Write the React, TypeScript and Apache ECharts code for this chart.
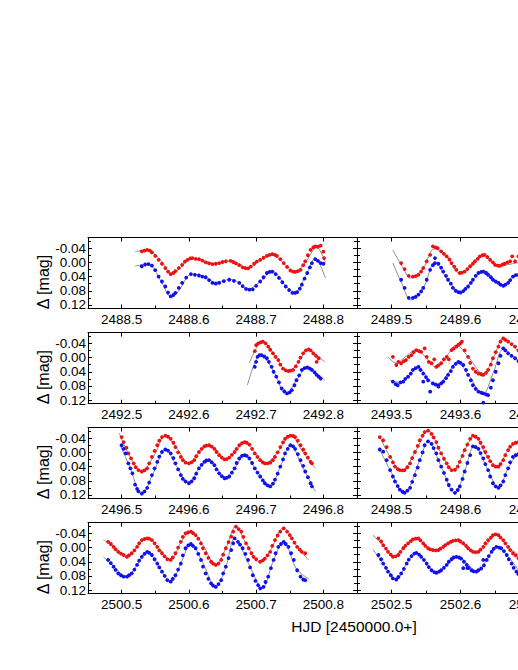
import React, { useEffect, useRef } from "react";
import * as echarts from "echarts";

// ---- panel ranges (HJD) ----
const panelStarts = [2488.45, 2489.45, 2492.45, 2493.45, 2496.45, 2498.45, 2500.45, 2502.45];
const panelSpan = 0.4;
const yMin = -0.07;
const yMax = 0.13;
const yTicks = [-0.04, 0, 0.04, 0.08, 0.12];
const yMinorTicks = [-0.06, -0.02, 0.02, 0.06, 0.1];

// ---- data: red (upper) and blue (lower) light curves, and fitted curves ----
const red_2488 = [[2488.530,-0.031],[2488.534,-0.033],[2488.538,-0.035],[2488.542,-0.033],[2488.545,-0.028],[2488.550,-0.018],[2488.555,-0.007],[2488.560,0.004],[2488.565,0.016],[2488.569,0.026],[2488.573,0.033],[2488.577,0.030],[2488.580,0.025],[2488.585,0.016],[2488.590,0.007],[2488.594,-0.002],[2488.598,-0.007],[2488.602,-0.011],[2488.605,-0.012],[2488.610,-0.010],[2488.615,-0.009],[2488.620,-0.005],[2488.625,0.000],[2488.630,0.003],[2488.635,0.005],[2488.640,0.004],[2488.645,0.002],[2488.650,-0.001],[2488.655,-0.003],[2488.662,-0.004],[2488.666,-0.001],[2488.670,0.003],[2488.675,0.008],[2488.680,0.014],[2488.684,0.016],[2488.688,0.017],[2488.692,0.012],[2488.697,0.004],[2488.701,-0.002],[2488.706,-0.007],[2488.711,-0.013],[2488.716,-0.018],[2488.720,-0.021],[2488.724,-0.023],[2488.728,-0.021],[2488.731,-0.018],[2488.736,-0.009],[2488.741,0.002],[2488.746,0.013],[2488.751,0.023],[2488.755,0.026],[2488.758,0.027],[2488.762,0.025],[2488.766,0.021],[2488.770,0.008],[2488.773,-0.003],[2488.777,-0.020],[2488.781,-0.035],[2488.785,-0.042],[2488.788,-0.045],[2488.792,-0.044],[2488.796,-0.047],[2488.800,-0.030],[2488.801,-0.012]];
const blue_2488 = [[2488.530,0.011],[2488.535,0.006],[2488.540,0.005],[2488.545,0.009],[2488.550,0.022],[2488.555,0.040],[2488.560,0.054],[2488.565,0.068],[2488.569,0.085],[2488.573,0.096],[2488.577,0.092],[2488.580,0.086],[2488.585,0.072],[2488.590,0.058],[2488.596,0.043],[2488.603,0.033],[2488.609,0.035],[2488.615,0.037],[2488.620,0.040],[2488.625,0.042],[2488.630,0.050],[2488.635,0.058],[2488.640,0.060],[2488.645,0.058],[2488.652,0.053],[2488.660,0.049],[2488.667,0.052],[2488.675,0.058],[2488.680,0.067],[2488.685,0.075],[2488.690,0.077],[2488.695,0.076],[2488.700,0.066],[2488.706,0.054],[2488.711,0.042],[2488.716,0.030],[2488.720,0.027],[2488.724,0.026],[2488.729,0.033],[2488.734,0.044],[2488.739,0.056],[2488.744,0.068],[2488.749,0.078],[2488.754,0.086],[2488.758,0.086],[2488.761,0.084],[2488.765,0.074],[2488.768,0.063],[2488.772,0.046],[2488.776,0.030],[2488.780,0.014],[2488.783,0.002],[2488.788,-0.009],[2488.792,-0.004],[2488.796,0.002],[2488.800,0.004]];
const fitRed_2488 = [[2488.520,-0.030],[2488.537,-0.035],[2488.548,-0.025],[2488.560,-0.002],[2488.574,0.032],[2488.585,0.020],[2488.598,-0.006],[2488.610,-0.011],[2488.625,-0.003],[2488.640,0.004],[2488.662,-0.005],[2488.675,0.005],[2488.687,0.016],[2488.706,-0.006],[2488.724,-0.023],[2488.741,0.003],[2488.758,0.027],[2488.773,0.000],[2488.790,-0.042],[2488.803,0.000]];
const fitBlue_2488 = [[2488.520,0.010],[2488.540,0.006],[2488.548,0.018],[2488.560,0.058],[2488.574,0.098],[2488.585,0.080],[2488.598,0.040],[2488.605,0.033],[2488.625,0.042],[2488.640,0.056],[2488.662,0.048],[2488.675,0.058],[2488.687,0.076],[2488.706,0.055],[2488.724,0.025],[2488.744,0.066],[2488.758,0.086],[2488.773,0.040],[2488.788,-0.010],[2488.803,0.044]];

const red_2489 = [[2489.514,0.002],[2489.519,0.019],[2489.525,0.038],[2489.531,0.040],[2489.535,0.039],[2489.539,0.035],[2489.543,0.026],[2489.546,0.016],[2489.551,-0.003],[2489.556,-0.021],[2489.560,-0.045],[2489.564,-0.042],[2489.567,-0.040],[2489.572,-0.031],[2489.576,-0.024],[2489.580,-0.017],[2489.584,-0.008],[2489.587,0.002],[2489.591,0.012],[2489.594,0.021],[2489.599,0.030],[2489.602,0.029],[2489.606,0.026],[2489.610,0.019],[2489.614,0.011],[2489.618,0.004],[2489.621,-0.003],[2489.625,-0.010],[2489.628,-0.017],[2489.632,-0.020],[2489.635,-0.021],[2489.639,-0.015],[2489.643,-0.007],[2489.647,0.000],[2489.650,0.007],[2489.654,0.009],[2489.657,0.010],[2489.661,0.006],[2489.664,0.004],[2489.668,0.000],[2489.672,-0.003],[2489.675,-0.017],[2489.679,-0.003],[2489.684,-0.017],[2489.688,0.000]];
const blue_2489 = [[2489.514,0.049],[2489.519,0.072],[2489.525,0.100],[2489.531,0.100],[2489.535,0.097],[2489.539,0.091],[2489.543,0.082],[2489.546,0.072],[2489.551,0.049],[2489.556,0.021],[2489.560,0.008],[2489.563,0.002],[2489.563,-0.012],[2489.568,0.004],[2489.572,0.015],[2489.575,0.026],[2489.579,0.038],[2489.582,0.049],[2489.586,0.060],[2489.589,0.072],[2489.593,0.080],[2489.597,0.084],[2489.600,0.085],[2489.604,0.081],[2489.607,0.075],[2489.611,0.068],[2489.615,0.058],[2489.618,0.049],[2489.622,0.038],[2489.626,0.030],[2489.630,0.027],[2489.633,0.026],[2489.637,0.030],[2489.640,0.035],[2489.644,0.042],[2489.647,0.049],[2489.651,0.054],[2489.655,0.058],[2489.658,0.063],[2489.662,0.066],[2489.665,0.063],[2489.669,0.058],[2489.672,0.050],[2489.676,0.040],[2489.680,0.036],[2489.684,0.035]];
const fitRed_2489 = [[2489.502,-0.035],[2489.515,0.010],[2489.528,0.044],[2489.546,0.016],[2489.562,-0.038],[2489.580,-0.017],[2489.599,0.031],[2489.614,0.011],[2489.633,-0.022],[2489.645,-0.004],[2489.657,0.010],[2489.675,0.004],[2489.690,-0.002]];
const fitBlue_2489 = [[2489.502,0.002],[2489.515,0.060],[2489.528,0.106],[2489.546,0.072],[2489.563,0.000],[2489.582,0.050],[2489.600,0.086],[2489.618,0.049],[2489.635,0.024],[2489.650,0.050],[2489.662,0.068],[2489.676,0.040],[2489.690,0.030]];

const red_2492 = [[2492.698,-0.018],[2492.700,-0.035],[2492.703,-0.040],[2492.707,-0.043],[2492.710,-0.045],[2492.714,-0.040],[2492.718,-0.031],[2492.721,-0.022],[2492.725,-0.012],[2492.729,-0.002],[2492.733,0.007],[2492.736,0.020],[2492.740,0.031],[2492.744,0.036],[2492.748,0.038],[2492.751,0.037],[2492.755,0.035],[2492.759,0.025],[2492.763,0.012],[2492.766,0.000],[2492.770,-0.012],[2492.774,-0.020],[2492.778,-0.023],[2492.781,-0.020],[2492.785,-0.012],[2492.789,-0.005],[2492.793,0.002],[2492.790,0.012]];
const blue_2492 = [[2492.698,0.026],[2492.700,0.012],[2492.702,-0.002],[2492.705,-0.007],[2492.708,-0.007],[2492.712,-0.003],[2492.716,0.002],[2492.719,0.012],[2492.723,0.026],[2492.726,0.040],[2492.730,0.054],[2492.734,0.070],[2492.738,0.087],[2492.742,0.095],[2492.746,0.101],[2492.750,0.098],[2492.753,0.092],[2492.757,0.078],[2492.760,0.064],[2492.764,0.050],[2492.768,0.035],[2492.772,0.030],[2492.776,0.028],[2492.780,0.031],[2492.783,0.035],[2492.787,0.042],[2492.790,0.049],[2492.793,0.054],[2492.796,0.059]];
const fitRed_2492 = [[2492.690,0.016],[2492.700,-0.025],[2492.710,-0.045],[2492.725,-0.014],[2492.748,0.040],[2492.763,0.012],[2492.778,-0.024],[2492.790,-0.005],[2492.802,0.012]];
const fitBlue_2492 = [[2492.687,0.078],[2492.697,0.020],[2492.706,-0.008],[2492.725,0.035],[2492.745,0.104],[2492.760,0.064],[2492.778,0.026],[2492.790,0.045],[2492.802,0.064]];

const red_2493 = [[2493.502,-0.002],[2493.507,0.021],[2493.510,0.012],[2493.514,0.016],[2493.518,0.010],[2493.521,0.007],[2493.525,-0.002],[2493.529,-0.007],[2493.532,-0.015],[2493.536,-0.021],[2493.540,-0.018],[2493.543,-0.016],[2493.548,-0.026],[2493.551,-0.002],[2493.554,0.012],[2493.558,0.016],[2493.562,0.005],[2493.565,0.026],[2493.568,0.022],[2493.572,0.016],[2493.576,0.005],[2493.580,-0.002],[2493.583,0.005],[2493.587,-0.021],[2493.590,-0.025],[2493.594,-0.031],[2493.597,-0.036],[2493.600,-0.040],[2493.602,-0.045],[2493.606,-0.020],[2493.611,-0.002],[2493.614,0.015],[2493.618,0.031],[2493.622,0.040],[2493.626,0.045],[2493.630,0.047],[2493.633,0.049],[2493.637,0.043],[2493.640,0.035],[2493.644,0.020],[2493.647,0.002],[2493.651,-0.015],[2493.655,-0.031],[2493.658,-0.045],[2493.662,-0.054],[2493.665,-0.050],[2493.669,-0.045],[2493.674,-0.038],[2493.679,-0.031],[2493.684,-0.020]];
const blue_2493 = [[2493.502,0.068],[2493.506,0.075],[2493.509,0.078],[2493.513,0.070],[2493.517,0.068],[2493.520,0.060],[2493.524,0.054],[2493.528,0.045],[2493.531,0.035],[2493.535,0.030],[2493.539,0.026],[2493.542,0.035],[2493.546,0.045],[2493.546,0.068],[2493.550,0.055],[2493.553,0.064],[2493.556,0.096],[2493.560,0.073],[2493.564,0.076],[2493.568,0.078],[2493.568,0.082],[2493.572,0.073],[2493.575,0.068],[2493.579,0.058],[2493.582,0.049],[2493.586,0.038],[2493.589,0.026],[2493.593,0.018],[2493.597,0.012],[2493.600,0.015],[2493.604,0.021],[2493.608,0.035],[2493.611,0.049],[2493.615,0.064],[2493.618,0.078],[2493.622,0.088],[2493.626,0.096],[2493.630,0.099],[2493.633,0.101],[2493.633,0.127],[2493.637,0.104],[2493.640,0.106],[2493.644,0.085],[2493.647,0.064],[2493.651,0.040],[2493.655,0.016],[2493.658,-0.005],[2493.662,-0.026],[2493.665,-0.020],[2493.669,-0.012],[2493.674,-0.005],[2493.679,0.002],[2493.684,0.010]];
const fitRed_2493 = [[2493.495,-0.002],[2493.507,0.016],[2493.520,-0.002],[2493.536,-0.022],[2493.550,0.000],[2493.565,0.028],[2493.580,-0.004],[2493.594,-0.035],[2493.612,0.000],[2493.633,0.046],[2493.648,0.000],[2493.662,-0.054],[2493.675,-0.035],[2493.690,-0.005]];
const fitBlue_2493 = [[2493.498,0.064],[2493.512,0.070],[2493.525,0.050],[2493.539,0.026],[2493.553,0.060],[2493.566,0.078],[2493.580,0.050],[2493.595,0.014],[2493.612,0.050],[2493.632,0.104],[2493.648,0.040],[2493.662,-0.024],[2493.675,-0.005],[2493.690,0.020]];

const red_2496 = [[2496.500,-0.043],[2496.503,-0.029],[2496.507,-0.013],[2496.510,0.003],[2496.514,0.017],[2496.518,0.031],[2496.521,0.042],[2496.525,0.050],[2496.530,0.054],[2496.534,0.051],[2496.538,0.045],[2496.541,0.031],[2496.545,0.013],[2496.549,-0.004],[2496.553,-0.020],[2496.556,-0.033],[2496.560,-0.043],[2496.565,-0.047],[2496.569,-0.044],[2496.573,-0.038],[2496.577,-0.027],[2496.580,-0.015],[2496.584,0.000],[2496.588,0.013],[2496.591,0.022],[2496.595,0.029],[2496.600,0.031],[2496.604,0.028],[2496.608,0.022],[2496.611,0.011],[2496.615,-0.001],[2496.619,-0.010],[2496.623,-0.017],[2496.626,-0.019],[2496.630,-0.020],[2496.634,-0.016],[2496.638,-0.010],[2496.641,-0.001],[2496.645,0.008],[2496.649,0.015],[2496.653,0.020],[2496.656,0.019],[2496.660,0.015],[2496.664,0.007],[2496.668,-0.001],[2496.671,-0.010],[2496.675,-0.020],[2496.679,-0.026],[2496.683,-0.029],[2496.686,-0.027],[2496.690,-0.022],[2496.694,-0.010],[2496.698,0.003],[2496.702,0.013],[2496.706,0.022],[2496.710,0.028],[2496.713,0.031],[2496.717,0.031],[2496.721,0.029],[2496.725,0.022],[2496.728,0.013],[2496.732,0.000],[2496.736,-0.015],[2496.740,-0.028],[2496.743,-0.038],[2496.747,-0.044],[2496.751,-0.047],[2496.755,-0.046],[2496.758,-0.043],[2496.762,-0.033],[2496.766,-0.020],[2496.770,-0.008],[2496.773,0.003],[2496.777,0.015],[2496.781,0.027],[2496.783,0.031]];
const blue_2496 = [[2496.500,-0.020],[2496.503,-0.010],[2496.506,0.003],[2496.510,0.031],[2496.513,0.045],[2496.516,0.059],[2496.520,0.091],[2496.523,0.103],[2496.525,0.110],[2496.530,0.116],[2496.534,0.110],[2496.538,0.100],[2496.541,0.085],[2496.545,0.064],[2496.549,0.045],[2496.553,0.027],[2496.556,0.012],[2496.560,-0.001],[2496.565,-0.008],[2496.569,-0.005],[2496.573,0.003],[2496.577,0.016],[2496.580,0.031],[2496.584,0.048],[2496.588,0.064],[2496.591,0.075],[2496.595,0.082],[2496.600,0.087],[2496.604,0.082],[2496.608,0.073],[2496.611,0.060],[2496.615,0.045],[2496.619,0.035],[2496.623,0.027],[2496.626,0.023],[2496.630,0.022],[2496.634,0.028],[2496.638,0.036],[2496.641,0.048],[2496.645,0.059],[2496.649,0.067],[2496.653,0.073],[2496.656,0.072],[2496.660,0.068],[2496.664,0.057],[2496.668,0.045],[2496.671,0.030],[2496.675,0.017],[2496.679,0.010],[2496.683,0.008],[2496.686,0.010],[2496.690,0.017],[2496.694,0.030],[2496.698,0.045],[2496.702,0.057],[2496.706,0.068],[2496.710,0.079],[2496.713,0.087],[2496.717,0.093],[2496.721,0.096],[2496.725,0.088],[2496.728,0.077],[2496.732,0.060],[2496.736,0.040],[2496.740,0.020],[2496.743,0.003],[2496.747,-0.010],[2496.751,-0.020],[2496.755,-0.017],[2496.758,-0.010],[2496.762,0.005],[2496.766,0.022],[2496.770,0.038],[2496.773,0.054],[2496.777,0.070],[2496.781,0.087],[2496.783,0.096]];
const fitRed_2496 = [[2496.4965,-0.054],[2496.510,0.003],[2496.530,0.054],[2496.548,0.010],[2496.565,-0.047],[2496.582,-0.012],[2496.600,0.031],[2496.615,0.000],[2496.630,-0.020],[2496.642,-0.006],[2496.653,0.020],[2496.668,0.000],[2496.683,-0.029],[2496.698,0.000],[2496.713,0.031],[2496.732,0.000],[2496.751,-0.047],[2496.770,0.000],[2496.788,0.045]];
const fitBlue_2496 = [[2496.498,-0.020],[2496.512,0.040],[2496.530,0.118],[2496.548,0.055],[2496.565,-0.008],[2496.582,0.040],[2496.600,0.088],[2496.615,0.045],[2496.630,0.022],[2496.642,0.045],[2496.653,0.073],[2496.668,0.045],[2496.683,0.007],[2496.700,0.050],[2496.721,0.096],[2496.736,0.040],[2496.751,-0.020],[2496.770,0.045],[2496.788,0.110]];

const red_2498 = [[2498.483,-0.043],[2498.488,-0.034],[2498.493,-0.015],[2498.498,0.013],[2498.502,0.028],[2498.505,0.040],[2498.509,0.047],[2498.512,0.050],[2498.516,0.051],[2498.519,0.050],[2498.523,0.042],[2498.527,0.031],[2498.530,0.016],[2498.534,-0.001],[2498.538,-0.018],[2498.541,-0.034],[2498.545,-0.047],[2498.548,-0.057],[2498.553,-0.061],[2498.558,-0.052],[2498.561,-0.042],[2498.565,-0.029],[2498.568,-0.013],[2498.572,0.003],[2498.576,0.018],[2498.580,0.031],[2498.583,0.042],[2498.587,0.050],[2498.592,0.049],[2498.596,0.040],[2498.599,0.027],[2498.603,0.010],[2498.606,-0.006],[2498.610,-0.022],[2498.614,-0.038],[2498.618,-0.047],[2498.622,-0.044],[2498.626,-0.038],[2498.629,-0.027],[2498.633,-0.015],[2498.636,-0.001],[2498.640,0.013],[2498.643,0.025],[2498.647,0.036],[2498.651,0.040],[2498.655,0.040],[2498.658,0.033],[2498.662,0.022],[2498.665,0.008],[2498.669,-0.006],[2498.672,-0.016],[2498.676,-0.024],[2498.680,-0.027],[2498.684,-0.029]];
const blue_2498 = [[2498.483,-0.008],[2498.488,-0.002],[2498.493,0.022],[2498.498,0.050],[2498.502,0.068],[2498.505,0.082],[2498.509,0.095],[2498.512,0.105],[2498.516,0.111],[2498.519,0.114],[2498.523,0.108],[2498.527,0.100],[2498.530,0.083],[2498.534,0.064],[2498.538,0.043],[2498.541,0.022],[2498.545,0.000],[2498.548,-0.020],[2498.553,-0.031],[2498.558,-0.024],[2498.561,-0.012],[2498.565,0.003],[2498.568,0.022],[2498.572,0.040],[2498.576,0.058],[2498.580,0.077],[2498.583,0.092],[2498.587,0.105],[2498.592,0.114],[2498.596,0.106],[2498.599,0.096],[2498.603,0.075],[2498.606,0.054],[2498.610,0.030],[2498.614,0.008],[2498.618,-0.017],[2498.622,-0.015],[2498.626,-0.010],[2498.629,0.002],[2498.633,0.017],[2498.636,0.033],[2498.640,0.050],[2498.643,0.068],[2498.647,0.087],[2498.651,0.096],[2498.655,0.100],[2498.658,0.093],[2498.662,0.082],[2498.665,0.064],[2498.669,0.045],[2498.672,0.028],[2498.676,0.013],[2498.680,0.008],[2498.684,0.005]];
const fitRed_2498 = [[2498.483,-0.045],[2498.498,0.013],[2498.515,0.052],[2498.534,0.000],[2498.553,-0.062],[2498.572,0.003],[2498.590,0.052],[2498.606,-0.006],[2498.620,-0.048],[2498.638,0.010],[2498.653,0.041],[2498.669,-0.006],[2498.684,-0.026],[2498.695,-0.020]];
const fitBlue_2498 = [[2498.483,-0.008],[2498.498,0.050],[2498.518,0.116],[2498.541,0.022],[2498.553,-0.031],[2498.572,0.040],[2498.592,0.116],[2498.606,0.054],[2498.620,-0.018],[2498.640,0.050],[2498.655,0.102],[2498.669,0.045],[2498.684,0.010],[2498.695,0.012]];

const red_2500 = [[2500.480,-0.016],[2500.484,-0.010],[2500.488,-0.002],[2500.491,0.005],[2500.495,0.012],[2500.499,0.017],[2500.503,0.021],[2500.508,0.026],[2500.511,0.022],[2500.515,0.016],[2500.519,0.008],[2500.523,-0.002],[2500.526,-0.012],[2500.530,-0.021],[2500.534,-0.024],[2500.538,-0.026],[2500.541,-0.025],[2500.545,-0.021],[2500.549,-0.012],[2500.553,-0.002],[2500.556,0.008],[2500.560,0.016],[2500.564,0.025],[2500.568,0.033],[2500.573,0.035],[2500.576,0.028],[2500.580,0.016],[2500.584,0.000],[2500.588,-0.016],[2500.591,-0.030],[2500.595,-0.040],[2500.599,-0.043],[2500.603,-0.045],[2500.606,-0.041],[2500.610,-0.035],[2500.614,-0.025],[2500.618,-0.012],[2500.621,0.002],[2500.625,0.016],[2500.629,0.029],[2500.633,0.040],[2500.636,0.045],[2500.640,0.049],[2500.644,0.045],[2500.648,0.035],[2500.651,0.020],[2500.655,0.002],[2500.659,-0.015],[2500.663,-0.031],[2500.666,-0.045],[2500.670,-0.059],[2500.674,-0.052],[2500.678,-0.045],[2500.681,-0.030],[2500.685,-0.012],[2500.689,0.002],[2500.693,0.016],[2500.696,0.026],[2500.700,0.033],[2500.706,0.040],[2500.710,0.036],[2500.713,0.031],[2500.717,0.022],[2500.721,0.012],[2500.724,-0.005],[2500.728,-0.021],[2500.732,-0.034],[2500.736,-0.045],[2500.741,-0.054],[2500.746,-0.045],[2500.750,-0.035],[2500.753,-0.026],[2500.757,-0.014],[2500.761,-0.002],[2500.765,0.006],[2500.768,0.012],[2500.773,0.016]];
const blue_2500 = [[2500.480,0.035],[2500.484,0.044],[2500.488,0.054],[2500.491,0.063],[2500.495,0.073],[2500.499,0.078],[2500.503,0.082],[2500.508,0.082],[2500.511,0.078],[2500.515,0.073],[2500.519,0.062],[2500.523,0.049],[2500.526,0.037],[2500.530,0.026],[2500.534,0.018],[2500.538,0.012],[2500.541,0.015],[2500.545,0.021],[2500.549,0.033],[2500.553,0.045],[2500.556,0.056],[2500.560,0.068],[2500.564,0.080],[2500.568,0.092],[2500.573,0.096],[2500.576,0.088],[2500.580,0.078],[2500.584,0.062],[2500.588,0.045],[2500.591,0.022],[2500.595,0.002],[2500.599,-0.006],[2500.603,-0.010],[2500.606,-0.005],[2500.610,0.002],[2500.614,0.018],[2500.618,0.035],[2500.621,0.054],[2500.625,0.073],[2500.629,0.088],[2500.633,0.101],[2500.636,0.107],[2500.640,0.111],[2500.644,0.103],[2500.648,0.092],[2500.651,0.073],[2500.655,0.054],[2500.659,0.030],[2500.663,0.007],[2500.666,-0.012],[2500.668,-0.026],[2500.673,-0.016],[2500.676,-0.008],[2500.680,0.002],[2500.684,0.018],[2500.688,0.035],[2500.691,0.056],[2500.695,0.078],[2500.699,0.094],[2500.703,0.106],[2500.706,0.115],[2500.711,0.111],[2500.714,0.097],[2500.718,0.082],[2500.722,0.058],[2500.726,0.035],[2500.729,0.016],[2500.733,-0.002],[2500.737,-0.010],[2500.741,-0.016],[2500.744,-0.010],[2500.748,-0.002],[2500.752,0.016],[2500.756,0.035],[2500.761,0.064],[2500.766,0.082],[2500.770,0.090],[2500.773,0.092]];
const fitRed_2500 = [[2500.473,-0.021],[2500.488,-0.004],[2500.508,0.026],[2500.523,-0.002],[2500.538,-0.028],[2500.553,-0.003],[2500.573,0.035],[2500.588,-0.014],[2500.603,-0.046],[2500.620,-0.010],[2500.640,0.050],[2500.655,0.002],[2500.670,-0.060],[2500.685,-0.012],[2500.705,0.040],[2500.720,0.012],[2500.741,-0.056],[2500.760,-0.005],[2500.778,0.035]];
const fitBlue_2500 = [[2500.473,0.026],[2500.490,0.056],[2500.507,0.083],[2500.523,0.049],[2500.538,0.012],[2500.553,0.045],[2500.573,0.097],[2500.588,0.045],[2500.603,-0.011],[2500.620,0.040],[2500.640,0.112],[2500.655,0.054],[2500.668,-0.026],[2500.690,0.050],[2500.709,0.115],[2500.726,0.035],[2500.741,-0.016],[2500.760,0.060],[2500.778,0.088]];

const red_2502 = [[2502.481,-0.026],[2502.485,-0.017],[2502.488,-0.007],[2502.492,0.003],[2502.495,0.012],[2502.499,0.020],[2502.502,0.026],[2502.506,0.025],[2502.510,0.021],[2502.513,0.012],[2502.517,0.002],[2502.520,-0.005],[2502.524,-0.012],[2502.528,-0.018],[2502.531,-0.023],[2502.535,-0.025],[2502.539,-0.026],[2502.542,-0.020],[2502.546,-0.012],[2502.549,-0.005],[2502.553,0.002],[2502.556,0.005],[2502.560,0.007],[2502.564,0.008],[2502.568,0.007],[2502.571,0.003],[2502.575,-0.002],[2502.578,-0.007],[2502.582,-0.012],[2502.586,-0.016],[2502.589,-0.019],[2502.593,-0.020],[2502.597,-0.021],[2502.600,-0.017],[2502.604,-0.012],[2502.608,-0.005],[2502.611,0.002],[2502.615,0.008],[2502.618,0.012],[2502.622,0.013],[2502.626,0.012],[2502.629,0.006],[2502.633,-0.002],[2502.636,-0.012],[2502.640,-0.021],[2502.644,-0.028],[2502.647,-0.035],[2502.651,-0.037],[2502.655,-0.035],[2502.658,-0.028],[2502.662,-0.021],[2502.665,-0.012],[2502.669,-0.002],[2502.672,0.007],[2502.676,0.016],[2502.680,0.022],[2502.684,0.030]];
const blue_2502 = [[2502.481,0.021],[2502.485,0.033],[2502.488,0.045],[2502.492,0.057],[2502.495,0.068],[2502.499,0.078],[2502.502,0.087],[2502.507,0.090],[2502.510,0.083],[2502.514,0.073],[2502.518,0.060],[2502.522,0.045],[2502.525,0.034],[2502.529,0.024],[2502.533,0.017],[2502.536,0.015],[2502.540,0.020],[2502.543,0.026],[2502.547,0.035],[2502.551,0.045],[2502.554,0.055],[2502.558,0.064],[2502.562,0.069],[2502.565,0.071],[2502.569,0.068],[2502.572,0.064],[2502.576,0.057],[2502.580,0.049],[2502.583,0.040],[2502.587,0.033],[2502.590,0.028],[2502.594,0.026],[2502.598,0.028],[2502.601,0.031],[2502.604,0.058],[2502.605,0.040],[2502.609,0.049],[2502.610,0.058],[2502.612,0.057],[2502.616,0.064],[2502.619,0.067],[2502.623,0.068],[2502.626,0.064],[2502.630,0.059],[2502.633,0.035],[2502.634,0.050],[2502.638,0.035],[2502.641,0.024],[2502.645,0.012],[2502.648,0.004],[2502.652,-0.002],[2502.656,0.000],[2502.659,0.002],[2502.663,0.010],[2502.667,0.021],[2502.670,0.033],[2502.674,0.045],[2502.677,0.057],[2502.681,0.068],[2502.684,0.075]];
const fitRed_2502 = [[2502.473,-0.035],[2502.488,-0.007],[2502.502,0.026],[2502.517,0.002],[2502.535,-0.026],[2502.553,0.000],[2502.565,0.007],[2502.580,-0.010],[2502.597,-0.022],[2502.611,0.000],[2502.622,0.012],[2502.635,-0.002],[2502.652,-0.036],[2502.669,-0.002],[2502.690,0.030]];
const fitBlue_2502 = [[2502.473,0.005],[2502.488,0.045],[2502.507,0.090],[2502.522,0.045],[2502.536,0.015],[2502.551,0.045],[2502.565,0.071],[2502.580,0.049],[2502.597,0.026],[2502.610,0.045],[2502.623,0.068],[2502.638,0.035],[2502.652,-0.002],[2502.667,0.021],[2502.690,0.080]];

const redSets = [red_2488, red_2489, red_2492, red_2493, red_2496, red_2498, red_2500, red_2502];
const blueSets = [blue_2488, blue_2489, blue_2492, blue_2493, blue_2496, blue_2498, blue_2500, blue_2502];
const fitRedSets = [fitRed_2488, fitRed_2489, fitRed_2492, fitRed_2493, fitRed_2496, fitRed_2498, fitRed_2500, fitRed_2502];
const fitBlueSets = [fitBlue_2488, fitBlue_2489, fitBlue_2492, fitBlue_2493, fitBlue_2496, fitBlue_2498, fitBlue_2500, fitBlue_2502];

const yAxisName = "Δ [mag]";
const xAxisTitle = "HJD [2450000.0+]";

// ---- layout ----
const FONT = "'Liberation Sans', Arial, Helvetica, sans-serif";
const LEFT_X = 88;
const LEFT_W = 269;
const RIGHT_X = 357;
const RIGHT_W = 276;
const ROW_TOPS = [237.5, 332.7, 427.5, 522.7];
const ROW_H = 71;
const RED = "#ee1111";
const BLUE = "#1111ee";
const FIT = "#808080";

const r3 = (v: number) => Math.round(v * 1000) / 1000;

function buildOption() {
  const grids: any[] = [];
  const xAxes: any[] = [];
  const yAxes: any[] = [];
  const series: any[] = [];
  const graphics: any[] = [];

  const tickStyle = { color: "#000", width: 1 };

  for (let g = 0; g < 8; g++) {
    const row = Math.floor(g / 2);
    const col = g % 2;
    const start = panelStarts[g];
    const end = r3(start + panelSpan);
    const majors = [0.05, 0.15, 0.25, 0.35].map((d) => r3(start + d));
    const minors = [0.1, 0.2, 0.3].map((d) => r3(start + d));
    grids.push({
      left: col === 0 ? LEFT_X : RIGHT_X,
      top: ROW_TOPS[row],
      width: col === 0 ? LEFT_W : RIGHT_W,
      height: ROW_H,
      containLabel: false,
    });
    xAxes.push({
      gridIndex: g, type: "value", min: start, max: end, position: "bottom",
      axisLine: { show: true, onZero: false, lineStyle: tickStyle },
      axisTick: { show: true, inside: true, length: 4, customValues: majors, lineStyle: tickStyle },
      axisLabel: {
        show: true, customValues: majors, margin: 4, color: "#000", fontSize: 13.5, fontFamily: FONT,
        formatter: (v: number) => v.toFixed(1),
      },
      splitLine: { show: false },
    });
    xAxes.push({
      gridIndex: g, type: "value", min: start, max: end, position: "bottom",
      axisLine: { show: false, onZero: false },
      axisTick: { show: true, inside: true, length: 3, customValues: minors, lineStyle: tickStyle },
      axisLabel: { show: false },
      splitLine: { show: false },
    });
    xAxes.push({
      gridIndex: g, type: "value", min: start, max: end, position: "top",
      axisLine: { show: true, onZero: false, lineStyle: tickStyle },
      axisTick: { show: true, inside: true, length: 4, customValues: majors, lineStyle: tickStyle },
      axisLabel: { show: false },
      splitLine: { show: false },
    });
    const yBase = { gridIndex: g, type: "value", min: yMin, max: yMax, inverse: true, splitLine: { show: false } };
    yAxes.push({
      ...yBase, position: "left",
      axisLine: { show: true, onZero: false, lineStyle: tickStyle },
      axisTick: { show: true, inside: true, length: 4, customValues: yTicks, lineStyle: tickStyle },
      axisLabel: {
        show: col === 0, customValues: yTicks, margin: 2, color: "#000", fontSize: 13.5, fontFamily: FONT,
        formatter: (v: number) => (Math.abs(v) < 1e-9 ? "0.00" : v.toFixed(2)),
      },
    });
    yAxes.push({
      ...yBase, position: "left",
      axisLine: { show: false, onZero: false },
      axisTick: { show: true, inside: true, length: 3, customValues: yMinorTicks, lineStyle: tickStyle },
      axisLabel: { show: false },
    });
    yAxes.push({
      ...yBase, position: "right",
      axisLine: { show: true, onZero: false, lineStyle: tickStyle },
      axisTick: { show: true, inside: true, length: 4, customValues: yTicks, lineStyle: tickStyle },
      axisLabel: { show: false },
    });
    yAxes.push({
      ...yBase, position: "right",
      axisLine: { show: false, onZero: false },
      axisTick: { show: true, inside: true, length: 3, customValues: yMinorTicks, lineStyle: tickStyle },
      axisLabel: { show: false },
    });

    const xi = g * 3;
    const yi = g * 4;
    series.push({
      type: "line", xAxisIndex: xi, yAxisIndex: yi, data: fitRedSets[g], showSymbol: false,
      smooth: 0.35, lineStyle: { color: FIT, width: 0.9 }, z: 1, silent: true,
    });
    series.push({
      type: "line", xAxisIndex: xi, yAxisIndex: yi, data: fitBlueSets[g], showSymbol: false,
      smooth: 0.35, lineStyle: { color: FIT, width: 0.9 }, z: 1, silent: true,
    });
    series.push({
      type: "scatter", xAxisIndex: xi, yAxisIndex: yi, data: redSets[g], symbol: "circle",
      symbolSize: 3.8, itemStyle: { color: RED, opacity: 1 }, z: 2, silent: true,
    });
    series.push({
      type: "scatter", xAxisIndex: xi, yAxisIndex: yi, data: blueSets[g], symbol: "circle",
      symbolSize: 3.8, itemStyle: { color: BLUE, opacity: 1 }, z: 2, silent: true,
    });

    if (col === 0) {
      graphics.push({
        type: "text", x: 43, y: ROW_TOPS[row] + ROW_H / 2 + 9, rotation: Math.PI / 2,
        style: { text: yAxisName, fill: "#000", fontSize: 16, fontFamily: FONT, textAlign: "center", textVerticalAlign: "middle" },
      });
    }
  }

  graphics.push({
    type: "text", x: 354, y: 626,
    style: { text: xAxisTitle, fill: "#000", fontSize: 15.5, fontFamily: FONT, textAlign: "center", textVerticalAlign: "middle" },
  });

  return {
    animation: false,
    backgroundColor: "#ffffff",
    grid: grids,
    xAxis: xAxes,
    yAxis: yAxes,
    series,
    graphic: graphics,
  };
}

export default function App() {
  const ref = useRef<HTMLDivElement>(null);
  useEffect(() => {
    if (!ref.current) return;
    const chart = echarts.init(ref.current, undefined, { renderer: "svg" });
    chart.setOption(buildOption() as any);
    return () => chart.dispose();
  }, []);
  return (
    <div style={{ position: "fixed", left: 0, top: 0, width: 518, height: 670, overflow: "hidden", background: "#fff" }}>
      <div ref={ref} style={{ width: 660, height: 670 }} />
    </div>
  );
}
